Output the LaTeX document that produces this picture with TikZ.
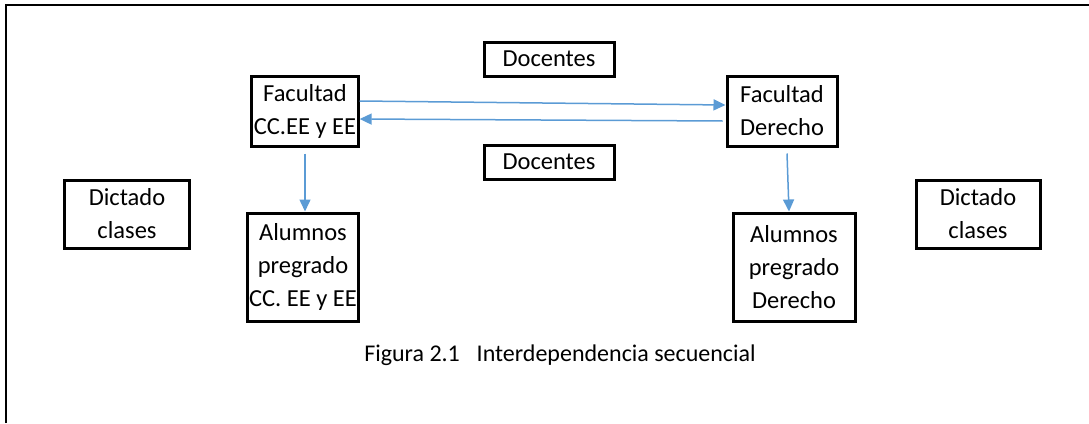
\documentclass[tikz,border=0pt]{standalone}
\usepackage{fontspec}
\setmainfont{Carlito}
\usetikzlibrary{arrows.meta}
\definecolor{azul}{RGB}{91,155,213}
\tikzset{
	caja/.style={draw,line width=3pt,align=center,inner sep=2pt,font=\fontsize{24.5}{33}\selectfont},
	flecha/.style={azul,line width=1.5pt,-{Triangle[length=12pt,width=11pt]}}
}
\begin{document}
\begin{tikzpicture}[x=1pt,y=-1pt]
	\useasboundingbox (0,0) rectangle (1089,423);
	%marco
	\draw [line width=2pt] (6,423) -- (6,5) -- (1089,5);
	%cajas
	\node[caja,minimum width=130pt,minimum height=34pt] (doc1) at (549,59) {Docentes};
	\node[caja,minimum width=106pt,minimum height=70pt] (facCC) at (305,111) {Facultad\\CC.EE y EE};
	\node[caja,minimum width=110pt,minimum height=70pt] (facDer) at (782,111) {Facultad\\Derecho};
	\node[caja,minimum width=130pt,minimum height=34pt] (doc2) at (549,162) {Docentes};
	\node[caja,minimum width=125pt,minimum height=68pt] (dicI) at (127,214) {Dictado\\clases};
	\node[caja,minimum width=110pt,minimum height=108pt] (aluCC) at (303,267) {Alumnos\\pregrado\\CC. EE y EE};
	\node[caja,minimum width=122pt,minimum height=108pt] (aluDer) at (794,267) {Alumnos\\pregrado\\Derecho};
	\node[caja,minimum width=124pt,minimum height=68pt] (dicD) at (978,214) {Dictado\\clases};
	%flechas
	\draw [flecha] ([yshift=10pt]facCC.east) -- ([yshift=6pt]facDer.west);
	\draw [flecha] ([yshift=-10pt,xshift=-3pt]facDer.west) -- ([yshift=-8pt]facCC.east);
	\draw [flecha] ([yshift=-6pt]facCC.south) -- ([xshift=2pt]aluCC.north);
	\draw [flecha] ([yshift=-6pt,xshift=5pt]facDer.south) -- ([xshift=-5pt]aluDer.north);
	%pie
	\node[font=\fontsize{24}{30}\selectfont] (pie) at (560,355) {Figura 2.1\hspace{0.7em}Interdependencia secuencial};
\end{tikzpicture}
\end{document}
